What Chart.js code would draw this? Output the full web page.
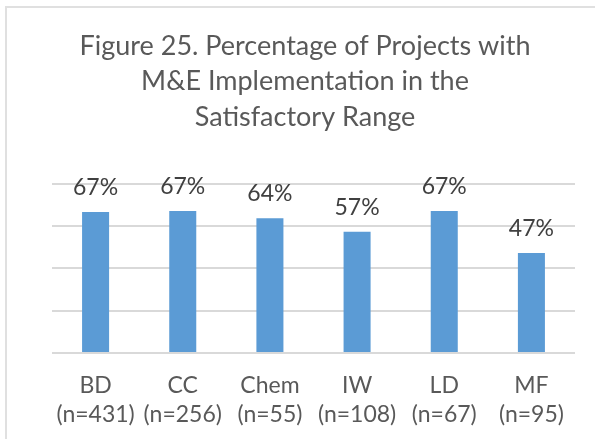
<!DOCTYPE html>
<html>
<head>
<meta charset="utf-8">
<script src="https://cdn.jsdelivr.net/npm/chart.js@4.4.1/dist/chart.umd.min.js"></script>
<style>
  html, body { margin: 0; padding: 0; background: #ffffff; }
  #wrap { position: relative; width: 595px; height: 439px; overflow: hidden; background: #fff; }
  #frame { position: absolute; left: 5px; top: 6px; width: 620px; height: 460px; border: 2px solid #e0e0e0; box-sizing: border-box; }
  canvas { position: absolute; left: 0; top: 0; }
</style>
</head>
<body>
<div id="wrap">
  <div id="frame"></div>
  <canvas id="c" width="595" height="439"></canvas>
</div>
<script>
// ---- data ----
const categories = ["BD", "CC", "Chem", "IW", "LD", "MF"];
const sampleSizes = ["(n=431)", "(n=256)", "(n=55)", "(n=108)", "(n=67)", "(n=95)"];
const percentValues = [66.7, 67.2, 63.8, 57.4, 67.2, 47.3];
const percentLabels = ["67%", "67%", "64%", "57%", "67%", "47%"];
const yTicks = [0, 20, 40, 60, 80];
const titleLines = ["Figure 25. Percentage of Projects with", "M&E Implementation in the", "Satisfactory Range"];

const FONT = "Lato, 'Open Sans', sans-serif";

const labelPlugin = {
  id: 'barValueLabels',
  afterDatasetsDraw(chart) {
    const ctx = chart.ctx;
    const meta = chart.getDatasetMeta(0);
    ctx.save();
    ctx.font = "23px " + FONT;
    ctx.fillStyle = "#404040";
    ctx.textAlign = "center";
    ctx.textBaseline = "alphabetic";
    meta.data.forEach((bar, i) => {
      ctx.fillText(percentLabels[i], bar.x, bar.y - 17);
    });
    ctx.restore();
  }
};

new Chart(document.getElementById('c'), {
  type: 'bar',
  data: {
    labels: categories.map((c, i) => [c, sampleSizes[i]]),
    datasets: [{
      data: percentValues,
      backgroundColor: '#5B9BD5',
      borderWidth: 0,
      barPercentage: 0.31,
      categoryPercentage: 1.0
    }]
  },
  options: {
    responsive: false,
    animation: false,
    events: [],
    layout: { padding: { left: 35, right: 20, top: 0, bottom: 0 } },
    plugins: {
      legend: { display: false },
      tooltip: { enabled: false },
      title: {
        display: true,
        text: titleLines,
        color: '#595959',
        font: { family: FONT, size: 27, weight: 'normal', lineHeight: 1.32 },
        padding: { top: 28, bottom: 49 }
      }
    },
    scales: {
      y: {
        min: yTicks[0],
        max: yTicks[yTicks.length - 1],
        afterBuildTicks(scale) { scale.ticks = yTicks.map(v => ({ value: v })); },
        ticks: { display: false },
        border: { display: false },
        grid: { color: '#d9d9d9', lineWidth: 2, drawTicks: false },
        afterFit(scale) { scale.width = 17; }
      },
      x: {
        grid: { display: false, drawTicks: false },
        border: { display: false },
        ticks: {
          color: '#595959',
          font: { family: FONT, size: 23, lineHeight: 1.26 },
          padding: 18,
          maxRotation: 0,
          autoSkip: false
        },
        afterFit(scale) { scale.height = 86; }
      }
    }
  },
  plugins: [labelPlugin]
});
</script>
</body>
</html>
